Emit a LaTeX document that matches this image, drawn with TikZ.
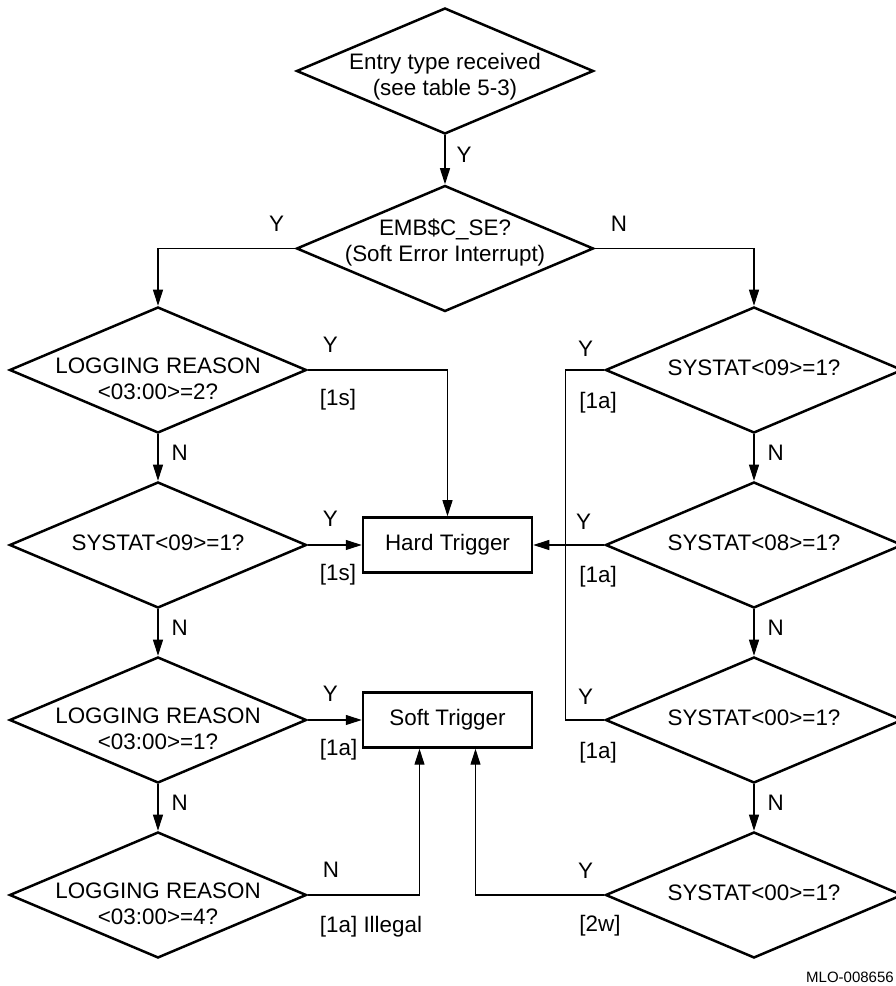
\documentclass[tikz,border=0pt]{standalone}
\usepackage{fontspec}
\setmainfont{Liberation Sans}
\usetikzlibrary{shapes.geometric, positioning, arrows.meta}

\newcommand{\dtext}[2][0pt]{\makebox[0pt]{\raisebox{#1}[\height][\depth]{\begin{tabular}{@{}c@{}}#2\end{tabular}}}}

\tikzset{
  decision/.style={diamond, draw, line width=2.5pt, minimum width=297pt,
    minimum height=126pt, inner sep=0pt},
  trigger/.style={rectangle, draw, line width=2.5pt, minimum width=169pt,
    minimum height=55pt},
  flow/.style={line width=1.1pt},
  arr/.style={flow, -{Triangle[length=16pt,width=10pt]}},
  lbl/.style={inner sep=0pt}
}

\begin{document}
\begin{tikzpicture}[x=1pt, y=1pt, font=\fontsize{22.4}{26}\selectfont]
\useasboundingbox (0,0) rectangle (896,986);

% top of the chart
\node[decision] (entry) at (445,915) {\dtext[-6pt]{Entry type received\\(see table 5-3)}};
\node[decision, below=49pt of entry] (emb) {\dtext[5pt]{EMB\$C\_SE?\\(Soft Error Interrupt)}};

% left column
\node[decision] (l1) at (158,616) {\dtext[-11pt]{LOGGING REASON\\<03:00>=2?}};
\node[decision, below=46.5pt of l1] (l2) {\dtext{SYSTAT<09>=1?}};
\node[decision, below=46.5pt of l2] (l3) {\dtext[-11pt]{LOGGING REASON\\<03:00>=1?}};
\node[decision, below=46.5pt of l3] (l4) {\dtext[-11pt]{LOGGING REASON\\<03:00>=4?}};

% right column
\node[decision] (r1) at (754,616) {\dtext{SYSTAT<09>=1?}};
\node[decision, below=46.5pt of r1] (r2) {\dtext{SYSTAT<08>=1?}};
\node[decision, below=46.5pt of r2] (r3) {\dtext{SYSTAT<00>=1?}};
\node[decision, below=46.5pt of r3] (r4) {\dtext{SYSTAT<00>=1?}};

% triggers
\node[trigger, right=54pt of l2] (hard) {Hard Trigger};
\node[trigger, right=54pt of l3] (soft) {Soft Trigger};

% branch labels
\node[lbl, above left=17pt and 11pt of emb.west] (embY) {Y};
\node[lbl, above right=17pt and 16pt of emb.east] (embN) {N};
\node[lbl, above right=17pt and 15pt of l1.east] (l1Y) {Y};
\node[lbl, below right=19pt and 12pt of l1.east] (l1c) {[1s]};
\node[lbl, above right=18pt and 15pt of l2.east] (l2Y) {Y};
\node[lbl, below right=19pt and 12pt of l2.east] (l2c) {[1s]};
\node[lbl, above right=18pt and 15pt of l3.east] (l3Y) {Y};
\node[lbl, below right=19pt and 12pt of l3.east] (l3c) {[1a]};
\node[lbl, above right=17pt and 15pt of l4.east] (l4N) {N};
\node[lbl, below right=21pt and 12pt of l4.east] (l4c) {[1a] Illegal};
\node[lbl, above left=13pt and 11pt of r1.west] (r1Y) {Y};
\node[lbl, below right=22pt and -25pt of r1.west] (r1c) {[1a]};
\node[lbl, above left=15pt and 13pt of r2.west] (r2Y) {Y};
\node[lbl, below right=21pt and -25pt of r2.west] (r2c) {[1a]};
\node[lbl, above left=15pt and 11pt of r3.west] (r3Y) {Y};
\node[lbl, below right=22pt and -25pt of r3.west] (r3c) {[1a]};
\node[lbl, above left=16pt and 11pt of r4.west] (r4Y) {Y};
\node[lbl, below right=20pt and -25pt of r4.west] (r4c) {[2w]};

\node[lbl, anchor=base west, font=\fontsize{15}{18}\selectfont] (mlo) at (806,3) {MLO-008656};

% connectors
\draw[arr] (entry) -- node[lbl, right=11pt, pos=0.4] (entryY) {Y} (emb);
\draw[arr] (emb.west) -| (l1.north);
\draw[arr] (emb.east) -| (r1.north);
\foreach \a/\b in {l1/l2, l2/l3, l3/l4, r1/r2, r2/r3, r3/r4}
  \draw[arr] (\a) -- node[lbl, right=13pt, pos=0.4] (n\a) {N} (\b);
\draw[arr] (l1.east) -| (hard.north);
\draw[arr] (l2.east) -- (hard.west);
\draw[arr] (r2.west) -- (hard.east);
\draw[flow] (r1.west) -- ++(-39pt,0) |- (r3.west);
\draw[arr] (l3.east) -- (soft.west);
\draw[arr] (l4.east) -| ([xshift=-28pt]soft.south);
\draw[arr] (r4.west) -| ([xshift=28pt]soft.south);
\end{tikzpicture}
\end{document}
